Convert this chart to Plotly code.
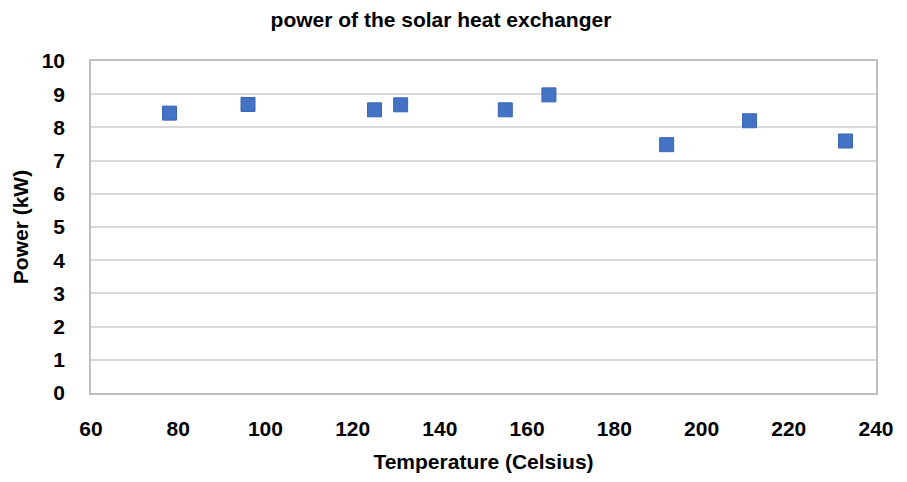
import plotly.graph_objects as go

temperature = [78, 96, 125, 131, 155, 165, 192, 211, 233]
power = [8.43, 8.69, 8.53, 8.68, 8.53, 8.98, 7.48, 8.20, 7.59]

x_ticks = [60, 80, 100, 120, 140, 160, 180, 200, 220, 240]
y_ticks = [0, 1, 2, 3, 4, 5, 6, 7, 8, 9, 10]

font_family = "Liberation Sans, Arial, sans-serif"

fig = go.Figure()
fig.add_trace(go.Scatter(
    x=temperature, y=power, mode="markers",
    marker=dict(symbol="square", size=14, color="#4472C4",
                line=dict(color="#3b66b5", width=1)),
    showlegend=False,
))

# page body has an 8px margin, so the figure is shrunk by 8px and margins compensated
fig.update_layout(
    width=899, height=474,
    margin=dict(l=83, r=31, t=53, b=76),
    paper_bgcolor="white", plot_bgcolor="white",
    font=dict(family=font_family, color="black"),
    title=dict(text="<b>power of the solar heat exchanger</b>",
               x=0.4816, xanchor="center", y=0.975, yanchor="middle",
               font=dict(size=21, family=font_family, color="black")),
    xaxis=dict(range=[60, 240], tickvals=x_ticks, showgrid=False,
               showline=True, linecolor="#c0c0c0", linewidth=1.5, mirror=True,
               zeroline=False, ticks="", ticklabelstandoff=16,
               tickfont=dict(size=21, family=font_family, color="black", weight="bold"),
               title=dict(text="<b>Temperature (Celsius)</b>", standoff=15,
                          font=dict(size=21, family=font_family, color="black"))),
    yaxis=dict(range=[0, 10], tickvals=y_ticks, showgrid=True,
               gridcolor="#d9d9d9", gridwidth=1.5,
               showline=True, linecolor="#c0c0c0", linewidth=1.5, mirror=True,
               zeroline=False, ticks="", ticklabelstandoff=20,
               tickfont=dict(size=21, family=font_family, color="black", weight="bold"),
               title=dict(text="<b>Power (kW)</b>", standoff=7,
                          font=dict(size=21, family=font_family, color="black"))),
)

fig.write_html("out.html")
